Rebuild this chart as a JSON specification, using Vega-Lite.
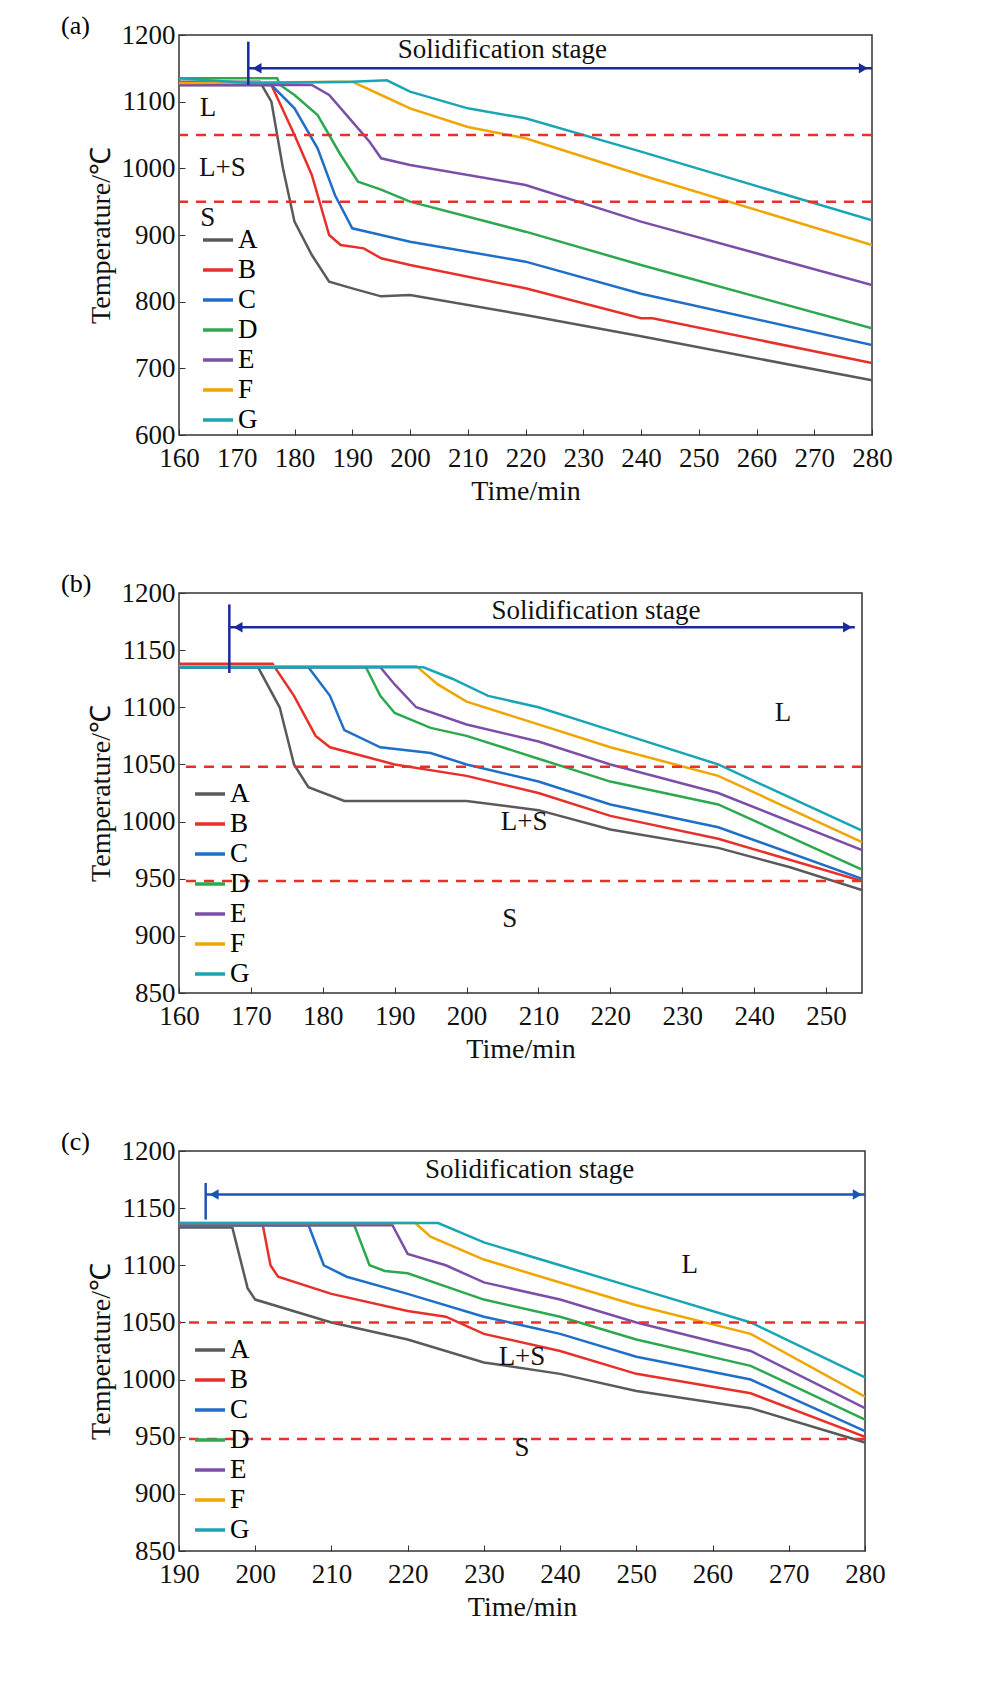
{
  "$schema": "https://vega.github.io/schema/vega-lite/v6.json",
  "background": "white",
  "padding": {"left": 60, "top": 12, "right": 20, "bottom": 5},
  "config": {
    "font": "Liberation Serif",
    "view": {"stroke": "#333", "strokeWidth": 1.5},
    "axis": {"labelFont": "Liberation Serif", "titleFont": "Liberation Serif", "labelFontSize": 27, "titleFontSize": 28, "titleFontWeight": "normal", "labelColor": "#111", "titleColor": "#111", "grid": false, "domain": false, "tickSize": -6, "tickColor": "#333", "labelPadding": 10, "format": "d", "titlePadding": 6, "labelOverlap": false, "labelBound": false, "labelFlush": false},
    "axisX": {"labelPadding": 16},
    "title": {"font": "Liberation Serif", "fontSize": 26, "fontWeight": "normal", "anchor": "start", "frame": "bounds"},
    "legend": {"labelFont": "Liberation Serif", "labelFontSize": 27, "labelLimit": 40, "symbolType": "stroke", "symbolStrokeWidth": 3.5, "symbolSize": 900, "rowPadding": 0, "labelOffset": 3, "title": null}
  },
  "spacing": 64,
  "resolve": {"scale": {"color": "independent"}, "legend": {"color": "independent"}},
  "datasets": {
    "a": [
      {"s":"A","t":160,"v":1130},{"s":"A","t":174,"v":1130},{"s":"A","t":176,"v":1100},{"s":"A","t":178,"v":1000},{"s":"A","t":180,"v":920},{"s":"A","t":183,"v":870},{"s":"A","t":186,"v":830},{"s":"A","t":190,"v":820},{"s":"A","t":195,"v":808},{"s":"A","t":200,"v":810},{"s":"A","t":220,"v":780},{"s":"A","t":240,"v":748},{"s":"A","t":280,"v":682},
      {"s":"B","t":160,"v":1125},{"s":"B","t":176,"v":1125},{"s":"B","t":180,"v":1050},{"s":"B","t":183,"v":990},{"s":"B","t":186,"v":900},{"s":"B","t":188,"v":885},{"s":"B","t":192,"v":880},{"s":"B","t":195,"v":865},{"s":"B","t":200,"v":855},{"s":"B","t":220,"v":820},{"s":"B","t":240,"v":775},{"s":"B","t":242,"v":775},{"s":"B","t":280,"v":708},
      {"s":"C","t":160,"v":1125},{"s":"C","t":176,"v":1125},{"s":"C","t":180,"v":1090},{"s":"C","t":184,"v":1030},{"s":"C","t":187,"v":960},{"s":"C","t":190,"v":910},{"s":"C","t":195,"v":900},{"s":"C","t":200,"v":890},{"s":"C","t":220,"v":860},{"s":"C","t":240,"v":812},{"s":"C","t":280,"v":735},
      {"s":"D","t":160,"v":1135},{"s":"D","t":177,"v":1135},{"s":"D","t":177.5,"v":1125},{"s":"D","t":180,"v":1110},{"s":"D","t":184,"v":1080},{"s":"D","t":188,"v":1020},{"s":"D","t":191,"v":980},{"s":"D","t":195,"v":968},{"s":"D","t":200,"v":950},{"s":"D","t":220,"v":905},{"s":"D","t":240,"v":855},{"s":"D","t":280,"v":760},
      {"s":"E","t":160,"v":1125},{"s":"E","t":183,"v":1125},{"s":"E","t":186,"v":1110},{"s":"E","t":190,"v":1070},{"s":"E","t":193,"v":1040},{"s":"E","t":195,"v":1015},{"s":"E","t":200,"v":1005},{"s":"E","t":220,"v":975},{"s":"E","t":240,"v":920},{"s":"E","t":280,"v":825},
      {"s":"F","t":160,"v":1128},{"s":"F","t":190,"v":1130},{"s":"F","t":195,"v":1110},{"s":"F","t":200,"v":1090},{"s":"F","t":210,"v":1062},{"s":"F","t":220,"v":1045},{"s":"F","t":240,"v":990},{"s":"F","t":280,"v":885},
      {"s":"G","t":160,"v":1135},{"s":"G","t":172,"v":1128},{"s":"G","t":190,"v":1130},{"s":"G","t":196,"v":1132},{"s":"G","t":200,"v":1115},{"s":"G","t":210,"v":1090},{"s":"G","t":220,"v":1075},{"s":"G","t":240,"v":1025},{"s":"G","t":280,"v":922}
    ],
    "b": [
      {"s":"A","t":160,"v":1135},{"s":"A","t":171,"v":1135},{"s":"A","t":174,"v":1100},{"s":"A","t":176,"v":1050},{"s":"A","t":178,"v":1030},{"s":"A","t":183,"v":1018},{"s":"A","t":200,"v":1018},{"s":"A","t":210,"v":1010},{"s":"A","t":220,"v":993},{"s":"A","t":235,"v":977},{"s":"A","t":245,"v":960},{"s":"A","t":255,"v":940},
      {"s":"B","t":160,"v":1138},{"s":"B","t":173,"v":1138},{"s":"B","t":176,"v":1110},{"s":"B","t":179,"v":1075},{"s":"B","t":181,"v":1065},{"s":"B","t":190,"v":1050},{"s":"B","t":200,"v":1040},{"s":"B","t":210,"v":1025},{"s":"B","t":220,"v":1005},{"s":"B","t":235,"v":985},{"s":"B","t":255,"v":948},
      {"s":"C","t":160,"v":1135},{"s":"C","t":178,"v":1135},{"s":"C","t":181,"v":1110},{"s":"C","t":183,"v":1080},{"s":"C","t":188,"v":1065},{"s":"C","t":195,"v":1060},{"s":"C","t":200,"v":1050},{"s":"C","t":210,"v":1035},{"s":"C","t":220,"v":1015},{"s":"C","t":235,"v":995},{"s":"C","t":255,"v":950},
      {"s":"D","t":160,"v":1135},{"s":"D","t":186,"v":1135},{"s":"D","t":188,"v":1110},{"s":"D","t":190,"v":1095},{"s":"D","t":195,"v":1082},{"s":"D","t":200,"v":1075},{"s":"D","t":210,"v":1055},{"s":"D","t":220,"v":1035},{"s":"D","t":235,"v":1015},{"s":"D","t":255,"v":958},
      {"s":"E","t":160,"v":1135},{"s":"E","t":188,"v":1135},{"s":"E","t":190,"v":1120},{"s":"E","t":193,"v":1100},{"s":"E","t":200,"v":1085},{"s":"E","t":210,"v":1070},{"s":"E","t":220,"v":1050},{"s":"E","t":235,"v":1025},{"s":"E","t":255,"v":975},
      {"s":"F","t":160,"v":1136},{"s":"F","t":193,"v":1136},{"s":"F","t":196,"v":1120},{"s":"F","t":200,"v":1105},{"s":"F","t":210,"v":1085},{"s":"F","t":220,"v":1065},{"s":"F","t":235,"v":1040},{"s":"F","t":255,"v":982},
      {"s":"G","t":160,"v":1135},{"s":"G","t":194,"v":1135},{"s":"G","t":198,"v":1125},{"s":"G","t":203,"v":1110},{"s":"G","t":210,"v":1100},{"s":"G","t":220,"v":1080},{"s":"G","t":235,"v":1050},{"s":"G","t":255,"v":992}
    ],
    "c": [
      {"s":"A","t":190,"v":1133},{"s":"A","t":197,"v":1133},{"s":"A","t":199,"v":1080},{"s":"A","t":200,"v":1070},{"s":"A","t":210,"v":1050},{"s":"A","t":220,"v":1035},{"s":"A","t":230,"v":1015},{"s":"A","t":240,"v":1005},{"s":"A","t":250,"v":990},{"s":"A","t":265,"v":975},{"s":"A","t":280,"v":945},
      {"s":"B","t":190,"v":1135},{"s":"B","t":201,"v":1135},{"s":"B","t":202,"v":1100},{"s":"B","t":203,"v":1090},{"s":"B","t":210,"v":1075},{"s":"B","t":220,"v":1060},{"s":"B","t":225,"v":1055},{"s":"B","t":230,"v":1040},{"s":"B","t":240,"v":1025},{"s":"B","t":250,"v":1005},{"s":"B","t":265,"v":988},{"s":"B","t":280,"v":950},
      {"s":"C","t":190,"v":1135},{"s":"C","t":207,"v":1135},{"s":"C","t":209,"v":1100},{"s":"C","t":212,"v":1090},{"s":"C","t":220,"v":1075},{"s":"C","t":230,"v":1055},{"s":"C","t":240,"v":1040},{"s":"C","t":250,"v":1020},{"s":"C","t":265,"v":1000},{"s":"C","t":280,"v":955},
      {"s":"D","t":190,"v":1135},{"s":"D","t":213,"v":1135},{"s":"D","t":215,"v":1100},{"s":"D","t":217,"v":1095},{"s":"D","t":220,"v":1093},{"s":"D","t":230,"v":1070},{"s":"D","t":240,"v":1055},{"s":"D","t":250,"v":1035},{"s":"D","t":265,"v":1012},{"s":"D","t":280,"v":965},
      {"s":"E","t":190,"v":1135},{"s":"E","t":218,"v":1135},{"s":"E","t":220,"v":1110},{"s":"E","t":225,"v":1100},{"s":"E","t":230,"v":1085},{"s":"E","t":240,"v":1070},{"s":"E","t":250,"v":1050},{"s":"E","t":265,"v":1025},{"s":"E","t":280,"v":975},
      {"s":"F","t":190,"v":1137},{"s":"F","t":221,"v":1137},{"s":"F","t":223,"v":1125},{"s":"F","t":230,"v":1105},{"s":"F","t":240,"v":1085},{"s":"F","t":250,"v":1065},{"s":"F","t":265,"v":1040},{"s":"F","t":280,"v":985},
      {"s":"G","t":190,"v":1137},{"s":"G","t":224,"v":1137},{"s":"G","t":230,"v":1120},{"s":"G","t":240,"v":1100},{"s":"G","t":250,"v":1080},{"s":"G","t":265,"v":1050},{"s":"G","t":280,"v":1002}
    ]
  },
  "vconcat": [
    {
      "width": 693, "height": 400,
      "title": {"text": "(a)", "dx": -26, "dy": 22},
      "layer": [
        {"data": {"name": "a"}, "mark": {"type": "line", "strokeWidth": 2.5, "clip": true},
         "encoding": {
           "x": {"field": "t", "type": "quantitative", "title": "Time/min", "scale": {"domain": [160, 280], "nice": false}, "axis": {"values": [160,170,180,190,200,210,220,230,240,250,260,270,280]}},
           "y": {"field": "v", "type": "quantitative", "title": "Temperature/℃", "scale": {"domain": [600, 1200], "nice": false}, "axis": {"values": [600,650,700,750,800,850,900,950,1000,1050,1100,1150,1200]}},
           "color": {"field": "s", "type": "nominal", "scale": {"domain": ["A","B","C","D","E","F","G"], "range": ["#5a5a5a","#e8302a","#1f6fc8","#2ea84f","#7b4fa8","#f0a500","#1aa5b5"]}, "legend": {"orient": "none", "legendX": 22, "legendY": 188}}
         }},
        {"data": {"values": [{"v": 1050}, {"v": 950}]}, "mark": {"type": "rule", "color": "#e8302a", "strokeDash": [10, 8], "strokeWidth": 2.5}, "encoding": {"y": {"field": "v", "type": "quantitative"}}},
        {"data": {"values": [{"x": 172, "x2": 280, "y": 1150}]}, "mark": {"type": "rule", "color": "#1a2a9a", "strokeWidth": 2.5}, "encoding": {"x": {"field": "x", "type": "quantitative"}, "x2": {"field": "x2"}, "y": {"field": "y", "type": "quantitative"}}},
        {"data": {"values": [{"x": 172, "y": 1125, "y2": 1190}]}, "mark": {"type": "rule", "color": "#1a2a9a", "strokeWidth": 2.5}, "encoding": {"x": {"field": "x", "type": "quantitative"}, "y": {"field": "y", "type": "quantitative"}, "y2": {"field": "y2"}}},
        {"data": {"values": [{"x": 173.5, "y": 1150, "sh": "triangle-left"}, {"x": 278.5, "y": 1150, "sh": "triangle-right"}]}, "mark": {"type": "point", "filled": true, "color": "#1a2a9a", "size": 110, "opacity": 1}, "encoding": {"x": {"field": "x", "type": "quantitative"}, "y": {"field": "y", "type": "quantitative"}, "shape": {"field": "sh", "type": "nominal", "scale": null}}},
        {"data": {"values": [{"x": 216, "y": 1178, "l": "Solidification stage"}, {"x": 165, "y": 1090, "l": "L"}, {"x": 167.5, "y": 1000, "l": "L+S"}, {"x": 165, "y": 926, "l": "S"}]}, "mark": {"type": "text", "fontSize": 27, "color": "#111"}, "encoding": {"x": {"field": "x", "type": "quantitative"}, "y": {"field": "y", "type": "quantitative"}, "text": {"field": "l"}}}
      ]
    },
    {
      "width": 683, "height": 400,
      "title": {"text": "(b)", "dx": -26, "dy": 22},
      "layer": [
        {"data": {"name": "b"}, "mark": {"type": "line", "strokeWidth": 2.5, "clip": true},
         "encoding": {
           "x": {"field": "t", "type": "quantitative", "title": "Time/min", "scale": {"domain": [160, 255], "nice": false}, "axis": {"values": [160,170,180,190,200,210,220,230,240,250]}},
           "y": {"field": "v", "type": "quantitative", "title": "Temperature/℃", "scale": {"domain": [850, 1200], "nice": false}, "axis": {"values": [850,900,950,1000,1050,1100,1150,1200]}},
           "color": {"field": "s", "type": "nominal", "scale": {"domain": ["A","B","C","D","E","F","G"], "range": ["#5a5a5a","#e8302a","#1f6fc8","#2ea84f","#7b4fa8","#f0a500","#1aa5b5"]}, "legend": {"orient": "none", "legendX": 14, "legendY": 184}}
         }},
        {"data": {"values": [{"v": 1048}, {"v": 948}]}, "mark": {"type": "rule", "color": "#e8302a", "strokeDash": [10, 8], "strokeWidth": 2.5}, "encoding": {"y": {"field": "v", "type": "quantitative"}}},
        {"data": {"values": [{"x": 167, "x2": 254, "y": 1170}]}, "mark": {"type": "rule", "color": "#1a2a9a", "strokeWidth": 2.5}, "encoding": {"x": {"field": "x", "type": "quantitative"}, "x2": {"field": "x2"}, "y": {"field": "y", "type": "quantitative"}}},
        {"data": {"values": [{"x": 167, "y": 1130, "y2": 1190}]}, "mark": {"type": "rule", "color": "#1a2a9a", "strokeWidth": 2.5}, "encoding": {"x": {"field": "x", "type": "quantitative"}, "y": {"field": "y", "type": "quantitative"}, "y2": {"field": "y2"}}},
        {"data": {"values": [{"x": 168.2, "y": 1170, "sh": "triangle-left"}, {"x": 253, "y": 1170, "sh": "triangle-right"}]}, "mark": {"type": "point", "filled": true, "color": "#1a2a9a", "size": 110, "opacity": 1}, "encoding": {"x": {"field": "x", "type": "quantitative"}, "y": {"field": "y", "type": "quantitative"}, "shape": {"field": "sh", "type": "nominal", "scale": null}}},
        {"data": {"values": [{"x": 218, "y": 1184, "l": "Solidification stage"}, {"x": 244, "y": 1095, "l": "L"}, {"x": 208, "y": 1000, "l": "L+S"}, {"x": 206, "y": 915, "l": "S"}]}, "mark": {"type": "text", "fontSize": 27, "color": "#111"}, "encoding": {"x": {"field": "x", "type": "quantitative"}, "y": {"field": "y", "type": "quantitative"}, "text": {"field": "l"}}}
      ]
    },
    {
      "width": 686, "height": 400,
      "title": {"text": "(c)", "dx": -26, "dy": 22},
      "layer": [
        {"data": {"name": "c"}, "mark": {"type": "line", "strokeWidth": 2.5, "clip": true},
         "encoding": {
           "x": {"field": "t", "type": "quantitative", "title": "Time/min", "scale": {"domain": [190, 280], "nice": false}, "axis": {"values": [190,200,210,220,230,240,250,260,270,280]}},
           "y": {"field": "v", "type": "quantitative", "title": "Temperature/℃", "scale": {"domain": [850, 1200], "nice": false}, "axis": {"values": [850,900,950,1000,1050,1100,1150,1200]}},
           "color": {"field": "s", "type": "nominal", "scale": {"domain": ["A","B","C","D","E","F","G"], "range": ["#5a5a5a","#e8302a","#1f6fc8","#2ea84f","#7b4fa8","#f0a500","#1aa5b5"]}, "legend": {"orient": "none", "legendX": 14, "legendY": 182}}
         }},
        {"data": {"values": [{"v": 1050}, {"v": 948}]}, "mark": {"type": "rule", "color": "#e8302a", "strokeDash": [10, 8], "strokeWidth": 2.5}, "encoding": {"y": {"field": "v", "type": "quantitative"}}},
        {"data": {"values": [{"x": 193.5, "x2": 280, "y": 1162}]}, "mark": {"type": "rule", "color": "#1a55b0", "strokeWidth": 2.5}, "encoding": {"x": {"field": "x", "type": "quantitative"}, "x2": {"field": "x2"}, "y": {"field": "y", "type": "quantitative"}}},
        {"data": {"values": [{"x": 193.5, "y": 1140, "y2": 1172}]}, "mark": {"type": "rule", "color": "#1a55b0", "strokeWidth": 2.5}, "encoding": {"x": {"field": "x", "type": "quantitative"}, "y": {"field": "y", "type": "quantitative"}, "y2": {"field": "y2"}}},
        {"data": {"values": [{"x": 194.6, "y": 1162, "sh": "triangle-left"}, {"x": 279, "y": 1162, "sh": "triangle-right"}]}, "mark": {"type": "point", "filled": true, "color": "#1a55b0", "size": 110, "opacity": 1}, "encoding": {"x": {"field": "x", "type": "quantitative"}, "y": {"field": "y", "type": "quantitative"}, "shape": {"field": "sh", "type": "nominal", "scale": null}}},
        {"data": {"values": [{"x": 236, "y": 1183, "l": "Solidification stage"}, {"x": 257, "y": 1100, "l": "L"}, {"x": 235, "y": 1020, "l": "L+S"}, {"x": 235, "y": 940, "l": "S"}]}, "mark": {"type": "text", "fontSize": 27, "color": "#111"}, "encoding": {"x": {"field": "x", "type": "quantitative"}, "y": {"field": "y", "type": "quantitative"}, "text": {"field": "l"}}}
      ]
    }
  ]
}
